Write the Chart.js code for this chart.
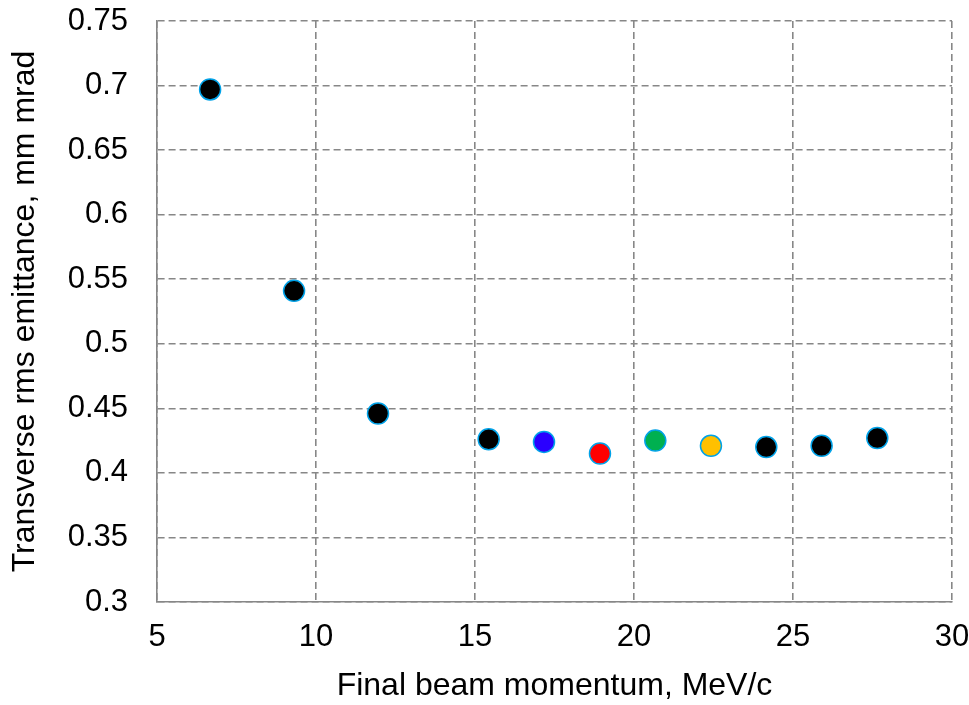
<!DOCTYPE html>
<html>
<head>
<meta charset="utf-8">
<script src="https://cdn.jsdelivr.net/npm/chart.js@4"></script>
<style>
  html, body { margin: 0; padding: 0; background: #fff; }
  #wrap { width: 969px; height: 705px; }
</style>
</head>
<body>
<div id="wrap"><canvas id="emittanceChart" width="969" height="705"></canvas></div>
<script>
// values
const momentum = [6.67, 9.31, 11.95, 15.43, 17.17, 18.93, 20.67, 22.42, 24.16, 25.9, 27.65];
const emittance = [0.697, 0.541, 0.446, 0.426, 0.424, 0.415, 0.425, 0.421, 0.420, 0.421, 0.427];
const pointColors = ["#000000", "#000000", "#000000", "#000000", "#2a00ff", "#ff0000",
  "#00b050", "#ffc000", "#000000", "#000000", "#000000"];
const xTicks = [5, 10, 15, 20, 25, 30];
const yTicks = [0.3, 0.35, 0.4, 0.45, 0.5, 0.55, 0.6, 0.65, 0.7, 0.75];

const fontFamily = "Arial, 'Liberation Sans', sans-serif";
const gridColor = "#878787";

document.addEventListener("DOMContentLoaded", function () {
  const ctx = document.getElementById("emittanceChart");

  new Chart(ctx, {
    type: "scatter",
    data: {
      datasets: [
        {
          data: momentum.map((x, i) => ({ x: x, y: emittance[i] })),
          backgroundColor: pointColors,
          borderColor: "#00a2e8",
          borderWidth: 1.5,
          pointRadius: 10.5,
          pointHoverRadius: 10.5,
        },
      ],
    },
    options: {
      responsive: false,
      animation: false,
      layout: { padding: { top: 21, right: 17, left: 0, bottom: 0 } },
      plugins: {
        legend: { display: false },
        tooltip: { enabled: false },
      },
      scales: {
        x: {
          type: "linear",
          min: 5,
          max: 30,
          afterBuildTicks: (scale) => {
            scale.ticks = xTicks.map((v) => ({ value: v }));
          },
          afterFit: (scale) => {
            scale.height = 103;
            scale.paddingLeft = 0;
            scale.paddingRight = 0;
          },
          grid: { color: gridColor, lineWidth: 1.6, drawTicks: false },
          border: { display: true, color: gridColor, width: 1.6, dash: [7, 4] },
          ticks: {
            padding: 17,
            color: "#000",
            font: { family: fontFamily, size: 31 },
            maxRotation: 0,
          },
          title: {
            display: true,
            text: "Final beam momentum, MeV/c",
            color: "#000",
            font: { family: fontFamily, size: 32 },
            padding: { top: 4, bottom: 0 },
          },
        },
        y: {
          type: "linear",
          min: 0.3,
          max: 0.75,
          afterBuildTicks: (scale) => {
            scale.ticks = yTicks.map((v) => ({ value: v }));
          },
          afterFit: (scale) => {
            scale.width = 157;
            scale.paddingTop = 0;
            scale.paddingBottom = 0;
          },
          grid: { color: gridColor, lineWidth: 1.6, drawTicks: false },
          border: { display: true, color: gridColor, width: 1.6, dash: [7, 4] },
          ticks: {
            padding: 29,
            color: "#000",
            font: { family: fontFamily, size: 31 },
            callback: (v) => String(Math.round(v * 100) / 100),
          },
          title: {
            display: true,
            text: "Transverse rms emittance, mm mrad",
            color: "#000",
            font: { family: fontFamily, size: 32 },
            padding: { top: 6, bottom: 4 },
          },
        },
      },
    },
  });
});
</script>
</body>
</html>
